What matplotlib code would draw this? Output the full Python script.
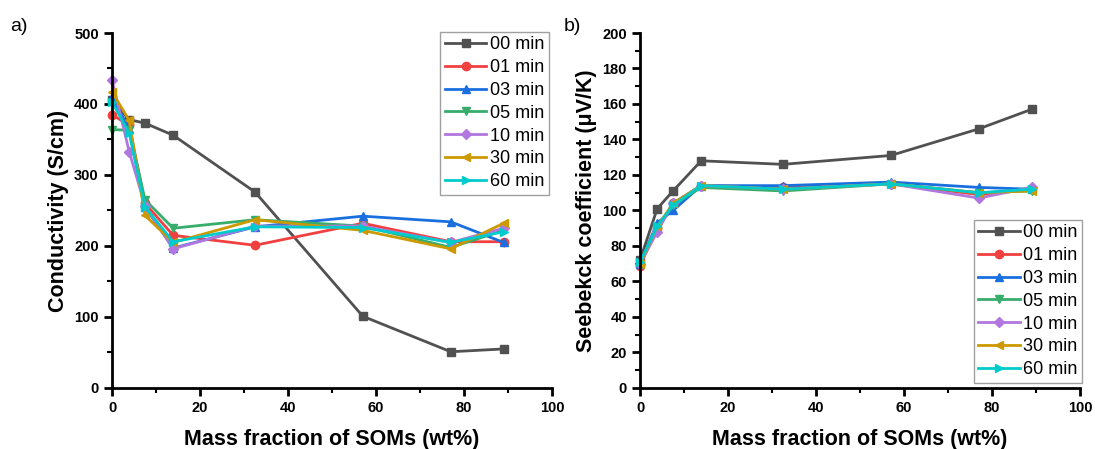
import matplotlib
matplotlib.use("Agg")
import matplotlib.pyplot as plt
from matplotlib.ticker import MultipleLocator

plt.rcParams['font.family'] = ['Liberation Sans', 'DejaVu Sans']

mass_fraction = [0, 3.9, 7.5, 13.9, 32.5, 57, 77, 89]
series_labels = ["00 min", "01 min", "03 min", "05 min", "10 min", "30 min", "60 min"]

cond_00 = [405, 378, 373, 356, 276, 101, 51, 55]
cond_01 = [385, 370, 260, 215, 201, 232, 206, 206]
cond_03 = [410, 365, 255, 197, 227, 242, 234, 205]
cond_05 = [364, 363, 265, 225, 237, 228, 198, 222]
cond_10 = [434, 333, 257, 196, 228, 228, 205, 225]
cond_30 = [417, 377, 243, 205, 237, 222, 196, 232]
cond_60 = [403, 359, 255, 206, 227, 226, 205, 220]

seeb_00 = [72, 101, 111, 128, 126, 131, 146, 157]
seeb_01 = [69, 90, 104, 114, 113, 115, 109, 112]
seeb_03 = [70, 93, 100, 114, 114, 116, 113, 112]
seeb_05 = [70, 90, 103, 113, 111, 115, 110, 111]
seeb_10 = [70, 88, 104, 114, 112, 115, 107, 113]
seeb_30 = [70, 91, 104, 114, 112, 115, 110, 111]
seeb_60 = [71, 91, 103, 114, 112, 115, 110, 112]

conductivity = [cond_00, cond_01, cond_03, cond_05, cond_10, cond_30, cond_60]
seebeck = [seeb_00, seeb_01, seeb_03, seeb_05, seeb_10, seeb_30, seeb_60]

colors = ['#515151', '#F14040', '#1A6FDF', '#37AD6B', '#B177DE', '#CC9900', '#00CBCC']
markers = ['s', 'o', '^', 'v', 'D', '<', '>']

fig = plt.figure(figsize=(10.95, 4.49), dpi=100)
ax1 = fig.add_axes([0.1023, 0.1359, 0.4018, 0.7906])
ax2 = fig.add_axes([0.5845, 0.1359, 0.4018, 0.7906])


def style_axis(ax):
    for side in ('top', 'right'):
        ax.spines[side].set_visible(False)
    for side in ('left', 'bottom'):
        ax.spines[side].set_linewidth(2)
    ax.tick_params(which='major', direction='out', length=6, width=2, labelsize=10.5)
    ax.tick_params(which='minor', direction='out', length=3.5, width=1.5)
    ax.xaxis.set_major_locator(MultipleLocator(20))
    ax.xaxis.set_minor_locator(MultipleLocator(10))
    ax.set_xlim(0, 100)
    for lbl in ax.get_xticklabels() + ax.get_yticklabels():
        lbl.set_fontweight('bold')
    ax.set_xlabel('Mass fraction of SOMs (wt%)', fontsize=15.5, fontweight='bold',
                  labelpad=10)


def draw_series(ax, data):
    for vals, lab, c, m in zip(data, series_labels, colors, markers):
        ms = 6 if m != 'D' else 5.5
        ax.plot(mass_fraction, vals, color=c, marker=m, markersize=ms, lw=2,
                label=lab, clip_on=False)


def add_legend(ax, loc, anchor):
    leg = ax.legend(loc=loc, bbox_to_anchor=anchor, fontsize=13,
                    frameon=True, fancybox=False, edgecolor='#888888',
                    handlelength=2.3, handletextpad=0.2, labelspacing=0.32,
                    borderpad=0.25, borderaxespad=0.0)
    leg.get_frame().set_linewidth(1)
    return leg


draw_series(ax1, conductivity)
ax1.set_ylim(0, 500)
ax1.yaxis.set_major_locator(MultipleLocator(100))
ax1.yaxis.set_minor_locator(MultipleLocator(50))
style_axis(ax1)
ax1.set_ylabel('Conductivity (S/cm)', fontsize=15.5, fontweight='bold')
add_legend(ax1, 'upper right', (0.993, 1.003))

draw_series(ax2, seebeck)
ax2.set_ylim(0, 200)
ax2.yaxis.set_major_locator(MultipleLocator(20))
ax2.yaxis.set_minor_locator(MultipleLocator(10))
style_axis(ax2)
ax2.set_ylabel('Seebekck coefficient (\u03bcV/K)', fontsize=15.5, fontweight='bold')
add_legend(ax2, 'lower right', (1.005, 0.015))

fig.text(0.009, 0.93, 'a)', fontsize=14)
fig.text(0.515, 0.93, 'b)', fontsize=14)

fig.savefig('out.png', dpi=100)
